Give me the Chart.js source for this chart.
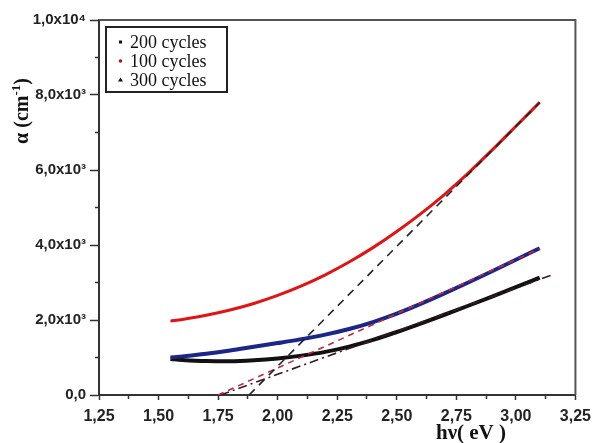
<!DOCTYPE html>
<html>
<head>
<meta charset="utf-8">
<script src="https://cdn.jsdelivr.net/npm/chart.js@4.4.0/dist/chart.umd.min.js"></script>
<style>
  html, body { margin: 0; padding: 0; background: #fff; }
  #wrap { width: 598px; height: 443px; position: relative; }
</style>
</head>
<body>
<div id="wrap"><canvas id="alphaChart"></canvas></div>
<script>
// energia do fóton (eV)
const energy = [1.55, 1.60, 1.70, 1.80, 1.90, 2.00, 2.10, 2.20, 2.30, 2.40, 2.50, 2.60, 2.70, 2.80, 2.90, 3.00, 3.10];
// coeficiente de absorção (cm-1)
const alpha100 = [1970, 2015, 2125, 2265, 2440, 2655, 2910, 3205, 3545, 3930, 4360, 4830, 5345, 5915, 6530, 7165, 7805];
const alpha300 = [1000, 1030, 1100, 1185, 1285, 1385, 1490, 1610, 1760, 1945, 2170, 2430, 2710, 3000, 3300, 3605, 3915];
const alpha200 = [960, 935, 905, 900, 925, 975, 1050, 1150, 1290, 1470, 1680, 1905, 2140, 2380, 2625, 2875, 3130];

// retas de extrapolação (gap)
const fitX100 = [1.88, 3.10];
const fitY100 = [0, 7800];
const fitX300 = [1.75, 3.10];
const fitY300 = [0, 3900];
const fitX200 = [1.76, 3.16];
const fitY200 = [0, 3220];

const legendLabels = ['200 cycles', '100 cycles', '300 cycles'];
const xTickValues = [1.25, 1.5, 1.75, 2.0, 2.25, 2.5, 2.75, 3.0, 3.25];
const xTickLabels = ['1,25', '1,50', '1,75', '2,00', '2,25', '2,50', '2,75', '3,00', '3,25'];
const yTickValues = [0, 2000, 4000, 6000, 8000, 10000];
const yTickLabels = ['0,0', '2,0x10³', '4,0x10³', '6,0x10³', '8,0x10³', '1,0x10⁴'];

const toPoints = (xs, ys) => xs.map((x, i) => ({ x: x, y: ys[i] }));

// moldura (topo e direita) + legenda + títulos
const framePlugin = {
    id: 'frame',
    afterDatasetsDraw(chart) {
        const { ctx, chartArea } = chart;
        ctx.save();
        ctx.strokeStyle = '#555';
        ctx.lineWidth = 2;
        ctx.beginPath();
        ctx.moveTo(chartArea.left, chartArea.top);
        ctx.lineTo(chartArea.right, chartArea.top);
        ctx.lineTo(chartArea.right, chartArea.bottom);
        ctx.stroke();
        ctx.restore();
    },
    afterDraw(chart) {
        const ctx = chart.ctx;
        ctx.save();
        // legenda
        ctx.strokeStyle = '#222';
        ctx.lineWidth = 2;
        ctx.strokeRect(106, 27, 121, 65);
        const rows = [42, 61, 80];
        ctx.fillStyle = '#111';
        ctx.fillRect(119, rows[0] - 1.5, 3, 3);
        ctx.fillStyle = '#b01020';
        ctx.beginPath();
        ctx.arc(120.5, rows[1], 1.8, 0, Math.PI * 2);
        ctx.fill();
        ctx.fillStyle = '#111';
        ctx.beginPath();
        ctx.moveTo(120.5, rows[2] - 2.5);
        ctx.lineTo(123, rows[2] + 1.5);
        ctx.lineTo(118, rows[2] + 1.5);
        ctx.closePath();
        ctx.fill();
        ctx.fillStyle = '#111';
        ctx.font = '18px "Liberation Serif", serif';
        ctx.textBaseline = 'middle';
        ctx.textAlign = 'left';
        legendLabels.forEach((t, i) => ctx.fillText(t, 130, rows[i] + 1));

        // título eixo x
        ctx.font = 'bold 21px "Liberation Serif", serif';
        ctx.textAlign = 'center';
        ctx.fillText('hν( eV )', 471, 434);

        // título eixo y (rotacionado)
        ctx.translate(23, 111);
        ctx.rotate(-Math.PI / 2);
        const main = 'α (cm';
        const sup = '-1';
        ctx.font = 'bold 20px "Liberation Serif", serif';
        const w1 = ctx.measureText(main).width;
        const w3 = ctx.measureText(')').width;
        ctx.font = 'bold 13px "Liberation Serif", serif';
        const w2 = ctx.measureText(sup).width;
        let x0 = -(w1 + w2 + w3) / 2;
        ctx.textAlign = 'left';
        ctx.font = 'bold 20px "Liberation Serif", serif';
        ctx.fillText(main, x0, 0);
        ctx.font = 'bold 13px "Liberation Serif", serif';
        ctx.fillText(sup, x0 + w1, -6);
        ctx.font = 'bold 20px "Liberation Serif", serif';
        ctx.fillText(')', x0 + w1 + w2, 0);
        ctx.restore();
    }
};

function curve(label, data, color, width) {
    return {
        label: label,
        data: toPoints(energy, data),
        borderColor: color,
        backgroundColor: color,
        borderWidth: width,
        pointRadius: 0,
        cubicInterpolationMode: 'monotone',
        fill: false,
        order: 2
    };
}

// retas ficam por cima das curvas
function fitLine(xs, ys, color, dash) {
    return {
        label: '',
        data: toPoints(xs, ys),
        borderColor: color,
        borderWidth: 1.6,
        borderDash: dash,
        pointRadius: 0,
        fill: false,
        order: 1
    };
}

new Chart(document.getElementById('alphaChart'), {
    type: 'line',
    data: {
        datasets: [
            curve('100 cycles', alpha100, '#e01414', 3),
            curve('300 cycles', alpha300, '#1c2688', 4),
            curve('200 cycles', alpha200, '#111111', 4),
            fitLine(fitX100, fitY100, '#222222', [8, 6]),
            fitLine(fitX300, fitY300, '#c0283a', [6, 5]),
            fitLine(fitX200, fitY200, '#3a1a22', [9, 4, 2, 4])
        ]
    },
    options: {
        responsive: true,
        maintainAspectRatio: false,
        animation: false,
        layout: { padding: { left: 0, right: 19, top: 20, bottom: 0 } },
        plugins: {
            legend: { display: false },
            tooltip: { enabled: false }
        },
        scales: {
            x: {
                type: 'linear',
                min: 1.25,
                max: 3.25,
                afterFit: (s) => { s.height = 48; },
                border: { color: '#333', width: 2 },
                grid: {
                    drawOnChartArea: false,
                    color: '#333',
                    tickColor: '#333',
                    tickWidth: 1.5,
                    tickLength: 5,
                    tickBorderDash: (c) => (xTickValues.indexOf(c.tick.value) >= 0 ? [] : [3, 10])
                },
                ticks: {
                    stepSize: 0.125,
                    autoSkip: false,
                    maxRotation: 0,
                    padding: 7,
                    color: '#222',
                    font: { family: '"Liberation Sans", Arial, sans-serif', size: 16, weight: 'bold' },
                    callback: (v) => {
                        const i = xTickValues.findIndex(t => Math.abs(t - v) < 1e-6);
                        return i >= 0 ? xTickLabels[i] : '';
                    }
                }
            },
            y: {
                type: 'linear',
                min: 0,
                max: 10000,
                afterFit: (s) => { s.width = 99; },
                border: { color: '#333', width: 2 },
                grid: {
                    drawOnChartArea: false,
                    color: '#333',
                    tickColor: '#333',
                    tickWidth: 1.5,
                    tickLength: 9,
                    tickBorderDash: (c) => (yTickValues.indexOf(c.tick.value) >= 0 ? [] : [0, 5, 4])
                },
                ticks: {
                    stepSize: 1000,
                    autoSkip: false,
                    padding: 4,
                    color: '#222',
                    font: { family: '"Liberation Sans", Arial, sans-serif', size: 15, weight: 'bold' },
                    callback: (v) => {
                        const i = yTickValues.indexOf(v);
                        return i >= 0 ? yTickLabels[i] : '';
                    }
                }
            }
        }
    },
    plugins: [framePlugin]
});
</script>
</body>
</html>
